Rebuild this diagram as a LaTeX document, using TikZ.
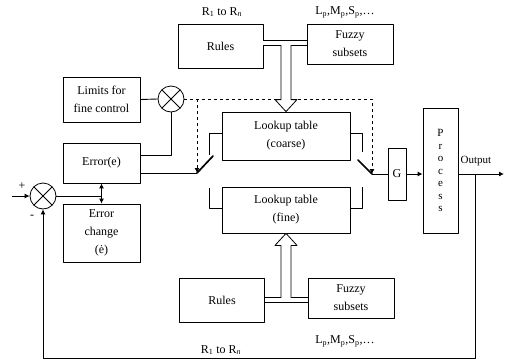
\documentclass[tikz,border=0pt]{standalone}
\usepackage{fontspec}
\setmainfont{Liberation Serif}
\usetikzlibrary{arrows.meta,calc}

\begin{document}
\begin{tikzpicture}[x=1pt, y=-1pt, line width=0.8pt, line join=round,
    font=\fontsize{12}{18}\selectfont,
    box/.style={draw, align=center, inner sep=0pt},
    mixer/.style={circle, draw, minimum size=26pt, inner sep=0pt,
      path picture={\draw (path picture bounding box.north west) -- (path picture bounding box.south east)
        (path picture bounding box.north east) -- (path picture bounding box.south west);}},
    conn/.style={line width=0.9pt},
    arr/.style={conn, -{Latex[length=5pt,width=5pt]}},
    blade/.style={line width=1.7pt, line cap=round},
    twin/.style={double, double distance=4pt, line width=0.8pt}]
  \useasboundingbox (0,0) rectangle (506,362);

  % blocks
  \node[box, minimum width=85pt, minimum height=44pt] (rulesT) at (220.5,46) {Rules};
  \node[box, minimum width=86pt, minimum height=40pt] (fuzzyT) at (350,44) {Fuzzy\\subsets};
  \node[box, minimum width=128pt, minimum height=48pt] (coarse) at (286,136) {Lookup table\\(coarse)};
  \node[box, minimum width=128pt, minimum height=46pt] (fine) at (286,210) {Lookup table\\(fine)};
  \node[box, minimum width=77pt, minimum height=45pt] (limits) at (101.5,99.5) {Limits for\\fine control};
  \node[box, minimum width=77pt, minimum height=40pt] (err) at (101.5,163) {Error(e)};
  \node[box, minimum width=77pt, minimum height=58pt] (errch) at (101.5,233) {Error\\change\\(\.{e})};
  \node[box, minimum width=18pt, minimum height=52pt] (G) at (397,174) {G};
  \node[box, minimum width=35pt, minimum height=125pt, font=\fontsize{11}{12.5}\selectfont] (proc) at (440.5,170.5) {P\\r\\o\\c\\e\\s\\s};
  \node[box, minimum width=85pt, minimum height=44pt] (rulesB) at (222,300) {Rules};
  \node[box, minimum width=86pt, minimum height=40pt] (fuzzyB) at (351,298) {Fuzzy\\subsets};
  \node[mixer] (mult) at (171,99) {};
  \node[mixer] (sum) at (43,196) {};

  % labels
  \node (rT) at (222,12) {R\textsubscript{1} to R\textsubscript{\itshape n}};
  \node (lT) at (345,12) {L\textsubscript{p},M\textsubscript{p},S\textsubscript{p},\dots};
  \node (rB) at (221,350) {R\textsubscript{1} to R\textsubscript{\itshape n}};
  \node (lB) at (345,341) {L\textsubscript{p},M\textsubscript{p},S\textsubscript{p},\dots};
  \node (plus) at (22,186) {+};
  \node (minus) at (32,217) {-};
  \node[font=\fontsize{11}{13}\selectfont] (outlbl) at (476,161) {Output};

  \coordinate (in) at (12,196);
  \coordinate (sw1) at (197,173);
  \coordinate (sw2) at (372,174);
  \coordinate (cl) at (209,155);
  \coordinate (fl) at (209,188);
  \coordinate (cr) at (362,152);
  \coordinate (fr) at (362,187);
  \coordinate (out) at (504,174);
  \coordinate (tap) at (475,174);
  \coordinate (topT) at (286,43);
  \coordinate (botT) at (286,300);

  % error path
  \draw[arr] (in) -- (sum.west);
  \draw[conn] (sum.east) -- (sum.east -| err.south);
  \draw[conn, {Latex[length=5pt,width=5pt]}-{Latex[length=5pt,width=5pt]}] (err.south) -- (errch.north);
  \draw[conn] (limits.east) -- (mult.west);
  \draw[conn] ([yshift=8pt]err.east) -| (mult.south);
  \draw[conn] ([yshift=-10pt]err.east) -- (sw1);

  % switches and table terminals
  \draw[blade] (sw1) -- ++(16,-17);
  \draw ([yshift=3pt]coarse.west) -| (cl);
  \draw ([yshift=2pt]fine.west) -| (fl);
  \draw ([yshift=3pt]coarse.east) -| (cr);
  \draw ([yshift=2pt]fine.east) -| (fr);
  \draw[blade] (sw2) -- ++(-14,-14);
  \draw[conn] (sw2) -- (G.west |- sw2);
  \draw[dashed, arr] (mult.east) -| (sw2);
  \draw[dashed, arr] (mult.east -| sw1) -- (sw1);

  % plant and feedback
  \draw[arr] (G.east) -- (proc.west |- G.east);
  \draw[arr] (proc.east |- G) -- (out);
  \draw[arr] (tap) -- ++(0,184) -| (sum.south);

  % rule bases into the tables
  \draw[twin] (rulesT.east |- topT) -- (fuzzyT.west |- topT);
  \filldraw[fill=white] ($(topT)+(-5,0)$) -- ($(coarse.north)+(-5,-12)$) -- ++(-6,0) -- (coarse.north)
    -- ($(coarse.north)+(11,-12)$) -- ++(-6,0) -- ($(topT)+(5,0)$);
  \draw[white, line width=4pt, shorten <=1pt, shorten >=1pt] (rulesT.east |- topT) -- (fuzzyT.west |- topT);
  \draw[twin] (rulesB.east |- botT) -- (fuzzyB.west |- botT);
  \filldraw[fill=white] ($(botT)+(-5,0)$) -- ($(fine.south)+(-5,12)$) -- ++(-6,0) -- (fine.south)
    -- ($(fine.south)+(11,12)$) -- ++(-6,0) -- ($(botT)+(5,0)$);
  \draw[white, line width=4pt, shorten <=1pt, shorten >=1pt] (rulesB.east |- botT) -- (fuzzyB.west |- botT);
\end{tikzpicture}
\end{document}
